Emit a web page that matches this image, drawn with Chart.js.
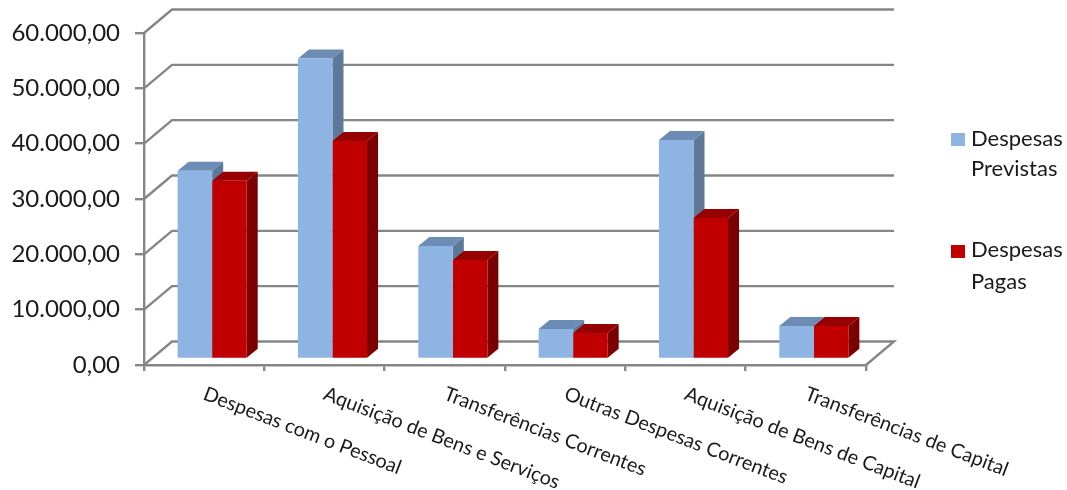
<!DOCTYPE html>
<html><head><meta charset="utf-8">
<style>html,body{margin:0;padding:0;background:#fff}canvas{display:block}</style>
<script src="https://cdn.jsdelivr.net/npm/chart.js@4"></script>
</head><body><canvas id="c" width="1067" height="490"></canvas>
<script>
const categories = ["Despesas com o Pessoal","Aquisição de Bens e Serviços","Transferências Correntes","Outras Despesas Correntes","Aquisição de Bens de Capital","Transferências de Capital"];
const previstas = [34000,54300,20400,5400,39600,5950];
const pagas = [32200,39400,17900,4700,25500,5950];
const legendLines = [["Despesas","Previstas"],["Despesas","Pagas"]];
const fmt = v => v.toLocaleString('de-DE',{minimumFractionDigits:2,maximumFractionDigits:2});
const GRID='#868686', DX=11, DY=-9, SHIFTX=8, SHIFTY=-6, WALLX=28, WALLY=-23.5;
const faces=[{front:'#8DB4E2',top:'#6C8CB5',side:'#5D7898'},{front:'#C00000',top:'#960000',side:'#7B0000'}];
const poly=(ctx,pts,fill)=>{ctx.beginPath();pts.forEach((p,i)=>i?ctx.lineTo(p[0],p[1]):ctx.moveTo(p[0],p[1]));ctx.closePath();ctx.fillStyle=fill;ctx.fill();};
const drawFaces=(ctx,meta,f)=>{
  meta.data.forEach(el=>{
   const {x,y,base,width}=el.getProps(['x','y','base','width'],true);
   const l=x-width/2,r=x+width/2;
   poly(ctx,[[r,y],[r+DX,y+DY],[r+DX,base+DY],[r,base]],f.side);
   poly(ctx,[[l,y],[l+DX,y+DY],[r+DX,y+DY],[r,y]],f.top);
  });
};
const threeD={id:'threeD',
 beforeDatasetsDraw(chart){
  const {ctx,chartArea:a,scales:{y}}=chart;
  ctx.save();ctx.strokeStyle=GRID;ctx.lineWidth=2.4;
  y.ticks.forEach(t=>{const py=y.getPixelForValue(t.value);
   ctx.beginPath();ctx.moveTo(a.left,py);ctx.lineTo(a.left+WALLX,py+WALLY);ctx.lineTo(a.right+WALLX,py+WALLY);
   if(t.value===0)ctx.lineTo(a.right,py);
   ctx.stroke();});
  ctx.restore();
  // the first series' depth faces go behind everything, so the second series covers them
  ctx.save();ctx.translate(SHIFTX,SHIFTY);
  drawFaces(ctx,chart.getDatasetMeta(0),faces[0]);
  ctx.restore();
 },
 beforeDatasetDraw(chart,args){
  const {ctx}=chart;
  ctx.save();ctx.translate(SHIFTX,SHIFTY);
  if(args.index===1)drawFaces(ctx,args.meta,faces[1]);
 },
 afterDatasetDraw(chart){chart.ctx.restore();},
 afterDraw(chart){
  const {ctx}=chart;
  const boxY=[133,245],lineY=[[139,169],[250,282]];
  ctx.save();ctx.font='22px Lato';ctx.fillStyle='#1a1a1a';ctx.textBaseline='middle';ctx.textAlign='left';
  legendLines.forEach((ls,i)=>{
   ctx.save();ctx.fillStyle=faces[i].front;ctx.fillRect(951,boxY[i],14,13);ctx.restore();
   ls.forEach((s,j)=>ctx.fillText(s,971,lineY[i][j]));
  });
  ctx.restore();
 }};
new Chart(document.getElementById('c'),{
 type:'bar',
 data:{labels:categories,datasets:[
  {label:'Despesas Previstas',data:previstas,backgroundColor:faces[0].front,borderWidth:0,clip:false},
  {label:'Despesas Pagas',data:pagas,backgroundColor:faces[1].front,borderWidth:0,clip:false}]},
 options:{responsive:false,animation:false,devicePixelRatio:1,
  layout:{padding:{top:33,right:201,left:0,bottom:0}},
  plugins:{legend:{display:false},tooltip:{enabled:false}},
  datasets:{bar:{barPercentage:1,categoryPercentage:0.574}},
  scales:{
   x:{offset:true,
    grid:{display:true,drawOnChartArea:false,drawTicks:true,tickLength:6,color:GRID,lineWidth:2.4},
    border:{display:true,color:GRID,width:2.4},
    ticks:{autoSkip:false,minRotation:-21,maxRotation:-21,padding:11,color:'#1a1a1a',font:{family:'Lato',size:19.8},},
    afterFit(s){s.height=125;s.paddingLeft=0;s.paddingRight=0;s._getXAxisLabelAlignment=()=>'left';}},
   y:{min:0,max:60000,
    grid:{display:true,drawOnChartArea:false,drawTicks:true,tickLength:9,color:GRID,lineWidth:2.4},
    border:{display:true,color:GRID,width:2.4},
    ticks:{stepSize:10000,padding:15,color:'#1a1a1a',font:{family:'Lato',size:24},callback:fmt},
    afterFit(s){s.width=144;s.paddingTop=0;s.paddingBottom=0;}}
  }},
 plugins:[threeD]});
</script></body></html>
